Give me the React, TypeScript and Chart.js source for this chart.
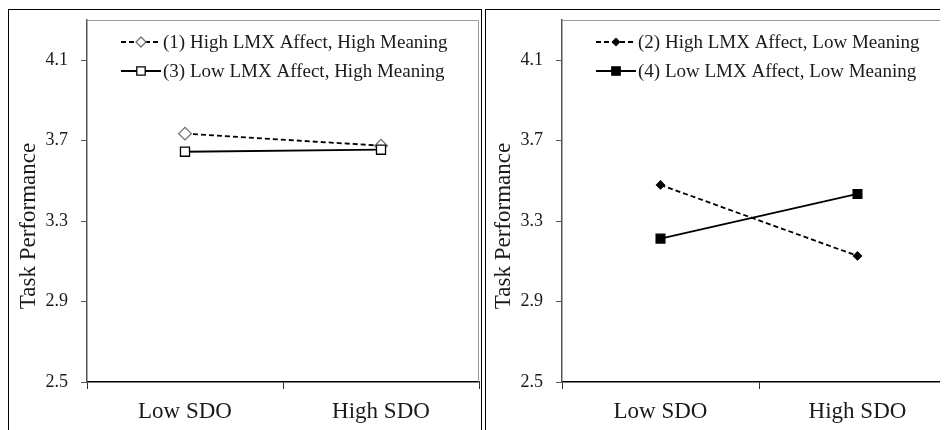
import React, { useEffect, useRef } from 'react';
import { Chart, registerables } from 'chart.js';

Chart.register(...registerables);

// ---- data ----
const categories = ['Low SDO', 'High SDO'];
const yTickValues = [2.5, 2.9, 3.3, 3.7, 4.1];
const yMin = 2.5;
const yMax = 4.3;
const axisTitle = 'Task Performance';

const series1Label = '(1) High LMX Affect, High Meaning';
const series1Values = [3.735, 3.675];
const series3Label = '(3) Low LMX Affect, High Meaning';
const series3Values = [3.645, 3.655];

const series2Label = '(2) High LMX Affect, Low Meaning';
const series2Values = [3.48, 3.127];
const series4Label = '(4) Low LMX Affect, Low Meaning';
const series4Values = [3.213, 3.435];

const FONT = "'Liberation Serif', 'Times New Roman', serif";
const TEXT = '#1a1a1a';

type Marker = {
  shape: 'diamond' | 'square';
  fill: string;
  stroke: string;
  size: number; // half extent in legend
};

type SeriesDef = {
  label: string;
  values: number[];
  dash: number[];
  pointStyle: string;
  radius: number;
  pointFill: string;
  pointStroke: string;
  order: number;
  legend: Marker;
};

function drawMarker(ctx: CanvasRenderingContext2D, x: number, y: number, m: Marker) {
  ctx.save();
  ctx.setLineDash([]);
  ctx.beginPath();
  if (m.shape === 'diamond') {
    ctx.moveTo(x, y - m.size);
    ctx.lineTo(x + m.size, y);
    ctx.lineTo(x, y + m.size);
    ctx.lineTo(x - m.size, y);
    ctx.closePath();
  } else {
    ctx.rect(x - m.size, y - m.size, m.size * 2, m.size * 2);
  }
  ctx.fillStyle = m.fill;
  ctx.fill();
  ctx.lineWidth = 1.3;
  ctx.strokeStyle = m.stroke;
  ctx.stroke();
  ctx.restore();
}

function zeroPadding(scale: any) {
  scale.paddingTop = 0;
  scale.paddingBottom = 0;
  scale.paddingLeft = 0;
  scale.paddingRight = 0;
}

function Panel({ series, yAxisWidth }: { series: SeriesDef[]; yAxisWidth: number }) {
  const ref = useRef<HTMLCanvasElement | null>(null);

  useEffect(() => {
    if (!ref.current) return;

    const legendPlugin = {
      id: 'customLegend',
      afterDraw(chart: any) {
        const ctx = chart.ctx as CanvasRenderingContext2D;
        const a = chart.chartArea;
        series.forEach((s, i) => {
          const y = a.top + 22 + i * 29;
          const x0 = a.left + 34;
          ctx.save();
          ctx.strokeStyle = '#000';
          ctx.lineWidth = 1.8;
          ctx.setLineDash(s.dash);
          ctx.beginPath();
          ctx.moveTo(x0, y);
          ctx.lineTo(x0 + 40, y);
          ctx.stroke();
          ctx.restore();
          drawMarker(ctx, x0 + 20, y, s.legend);
          ctx.save();
          ctx.fillStyle = TEXT;
          ctx.font = `19px ${FONT}`;
          ctx.textAlign = 'left';
          ctx.textBaseline = 'middle';
          ctx.fillText(s.label, x0 + 42, y + 1);
          ctx.restore();
        });
      },
    };

    const framePlugin = {
      id: 'frame',
      beforeDatasetsDraw(chart: any) {
        const ctx = chart.ctx as CanvasRenderingContext2D;
        const a = chart.chartArea;
        ctx.save();
        ctx.strokeStyle = '#9a9a9a';
        ctx.lineWidth = 1;
        ctx.beginPath();
        ctx.moveTo(a.left, a.top + 0.5);
        ctx.lineTo(a.right - 0.5, a.top + 0.5);
        ctx.lineTo(a.right - 0.5, a.bottom);
        ctx.stroke();
        ctx.restore();
      },
      afterDraw(chart: any) {
        const ctx = chart.ctx as CanvasRenderingContext2D;
        const a = chart.chartArea;
        ctx.save();
        ctx.translate(a.left - 58, a.top + 206);
        ctx.rotate(-Math.PI / 2);
        ctx.fillStyle = TEXT;
        ctx.font = `23px ${FONT}`;
        ctx.textAlign = 'center';
        ctx.textBaseline = 'middle';
        ctx.fillText(axisTitle, 0, 0);
        ctx.restore();
      },
    };

    const chart = new Chart(ref.current, {
      type: 'line',
      data: {
        labels: categories,
        datasets: series.map((s) => ({
          label: s.label,
          data: s.values,
          borderColor: '#000',
          borderWidth: 1.8,
          borderDash: s.dash,
          tension: 0,
          fill: false,
          clip: false as any,
          pointStyle: s.pointStyle as any,
          pointRadius: s.radius,
          pointHoverRadius: s.radius,
          pointBackgroundColor: s.pointFill,
          pointBorderColor: s.pointStroke,
          pointBorderWidth: 1.3,
          order: s.order,
        })),
      },
      options: {
        animation: false,
        responsive: false,
        layout: { autoPadding: false, padding: { top: 10, right: 2, left: 0, bottom: 0 } },
        plugins: {
          legend: { display: false },
          tooltip: { enabled: false },
          title: { display: false },
        },
        scales: {
          x: {
            type: 'category',
            offset: true,
            border: { display: true, color: '#000', width: 1.5 },
            grid: {
              display: true,
              offset: true,
              drawOnChartArea: false,
              drawTicks: true,
              tickLength: 7,
              color: '#333',
            },
            ticks: {
              color: TEXT,
              font: { family: FONT, size: 23 },
              padding: 9,
              maxRotation: 0,
            },
            afterFit(scale: any) {
              scale.height = 48;
              zeroPadding(scale);
            },
          },
          y: {
            type: 'linear',
            min: yMin,
            max: yMax,
            border: { display: true, color: '#555', width: 1.5 },
            grid: {
              display: true,
              drawOnChartArea: false,
              drawTicks: true,
              tickLength: 6,
              color: '#555',
            },
            ticks: {
              color: TEXT,
              font: { family: FONT, size: 18 },
              padding: 13,
              callback: (v: any) => Number(v).toFixed(1),
            },
            afterBuildTicks(scale: any) {
              scale.ticks = yTickValues.map((v) => ({ value: v }));
            },
            afterFit(scale: any) {
              scale.width = yAxisWidth;
              zeroPadding(scale);
            },
          },
        },
      },
      plugins: [framePlugin, legendPlugin],
    });

    return () => chart.destroy();
  }, [series, yAxisWidth]);

  return <canvas ref={ref} width={472} height={420} style={{ display: 'block' }} />;
}

const leftSeries: SeriesDef[] = [
  {
    label: series1Label,
    values: series1Values,
    dash: [5, 3],
    pointStyle: 'rectRot',
    radius: 6.3,
    pointFill: '#fff',
    pointStroke: '#6f6f6f',
    order: 2,
    legend: { shape: 'diamond', fill: '#fff', stroke: '#6f6f6f', size: 5 },
  },
  {
    label: series3Label,
    values: series3Values,
    dash: [],
    pointStyle: 'rect',
    radius: 6.4,
    pointFill: '#fff',
    pointStroke: '#000',
    order: 1,
    legend: { shape: 'square', fill: '#fff', stroke: '#000', size: 4.2 },
  },
];

const rightSeries: SeriesDef[] = [
  {
    label: series2Label,
    values: series2Values,
    dash: [5, 3],
    pointStyle: 'rectRot',
    radius: 4,
    pointFill: '#000',
    pointStroke: '#000',
    order: 2,
    legend: { shape: 'diamond', fill: '#000', stroke: '#000', size: 3.5 },
  },
  {
    label: series4Label,
    values: series4Values,
    dash: [],
    pointStyle: 'rect',
    radius: 6.2,
    pointFill: '#000',
    pointStroke: '#000',
    order: 1,
    legend: { shape: 'square', fill: '#000', stroke: '#000', size: 4.2 },
  },
];

export default function App() {
  return (
    <div
      style={{
        width: 940,
        height: 421,
        overflow: 'hidden',
        marginTop: 1,
        display: 'flex',
        background: '#fff',
      }}
    >
      <div style={{ border: '1px solid #000', width: 472, height: 430, flex: '0 0 auto' }}>
        <Panel series={leftSeries} yAxisWidth={78} />
      </div>
      <div
        style={{
          border: '1px solid #000',
          width: 472,
          height: 430,
          marginLeft: 3,
          flex: '0 0 auto',
        }}
      >
        <Panel series={rightSeries} yAxisWidth={76} />
      </div>
    </div>
  );
}
